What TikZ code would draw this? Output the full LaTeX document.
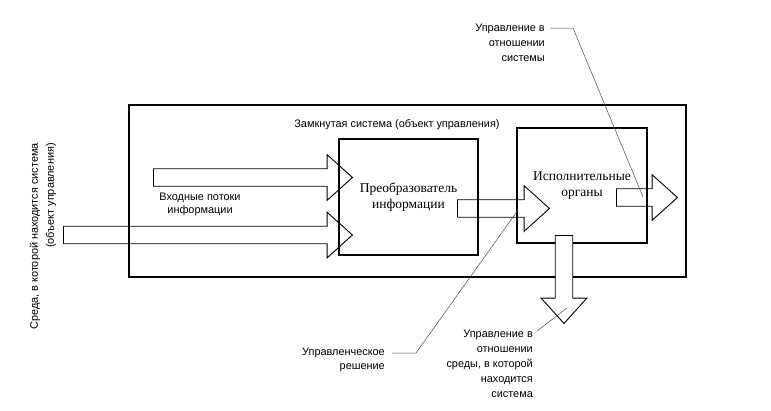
\documentclass[tikz,border=0pt]{standalone}
\usepackage{fontspec}
\setmainfont{Liberation Sans}
\newfontfamily\boxfont{Liberation Serif}
\usetikzlibrary{positioning,shapes.arrows}

\begin{document}
\begin{tikzpicture}[
				x=1pt, y=-1pt,
				caption/.style={inner sep=0, font=\fontsize{10.9}{15}\selectfont},
				unit/.style={rectangle, draw, line width=1.1pt, inner sep=0, align=center, font=\boxfont\fontsize{13.5}{16}\selectfont},
				blockarrow/.style={single arrow, draw, line width=0.9pt, inner xsep=0, inner ysep=8.3, single arrow head extend=14, single arrow tip angle=84, anchor=tail},
				leader/.style={draw=black!70, line width=0.5pt}
				]
				\useasboundingbox (0,0) rectangle (771,410);
				
				% closed system frame
				\node[draw, line width=2.8pt, minimum width=557, minimum height=172] (frame) at (407.5,191) {};
				\node[caption] (closedlbl) at (397,125) {Замкнутая система (объект управления)};
				
				% input flows
				\node[blockarrow, minimum height=199] (in1) at (153,177.5) {};
				\node[blockarrow, minimum height=289] (in2) at (63,235) {};
				\node[caption, align=center] (inputlbl) at (200,204.5) {Входные потоки\\[-2pt]информации};
				
				% blocks
				\node[unit, minimum width=139, minimum height=116] (conv) at (408.5,197) {Преобразователь\\информации};
				\node[unit, minimum width=130, minimum height=115] (actor) at (582,185.5) {Исполнительные\\органы};
				
				% decision and outputs
				\node[blockarrow, minimum height=92] (decision) at (457,208.5) {};
				\node[blockarrow, minimum height=61] (sysout) at (616,197.5) {};
				\node[blockarrow, minimum height=88, rotate=-90, fill=white] (envout) at (564,235) {};
				
				% environment
				\node[caption, rotate=90, align=right] (envlbl) at (43,236.5) {Среда, в которой находится система\\[1pt](объект управления)};
				
				% captions with leaders
				\node[caption, align=right, anchor=east] (sysctl) at (545,43) {Управление в\\отношении\\системы};
				\node[caption, align=right, anchor=east] (decisionlbl) at (385,360) {Управленческое\\[-1pt]решение};
				\node[caption, align=right, anchor=east] (envctl) at (533,364) {Управление в\\отношении\\среды, в которой\\находится\\система};
				
				\coordinate (sysctlA) at (550,28);
				\coordinate (sysctlB) at (643,197);
				\coordinate (decisionA) at (392,353);
				\coordinate (decisionB) at (518,210);
				\coordinate (envctlA) at (537,331);
				\coordinate (envctlB) at (567,308);
				
				\draw[leader] (sysctlA) -- ++(23,0) -- (sysctlB);
				\draw[leader] (decisionA) -- ++(24,0) -- (decisionB);
				\draw[leader] (envctlA) -- (envctlB);
			\end{tikzpicture}
\end{document}
